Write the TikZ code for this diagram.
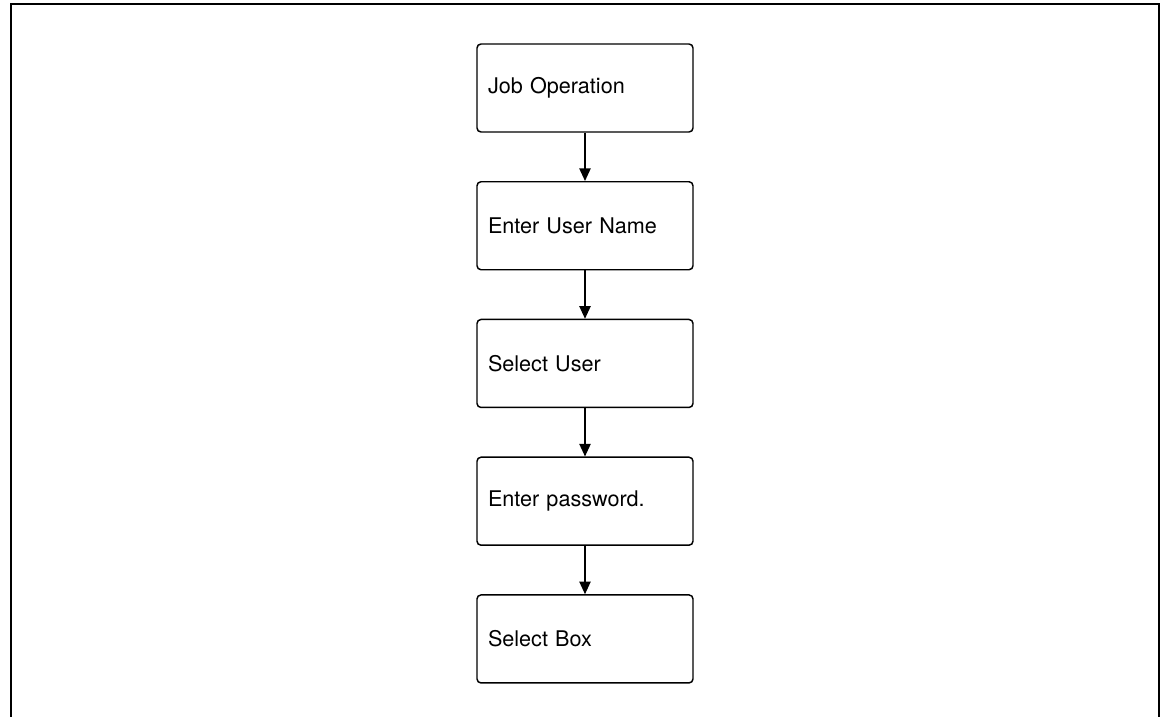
\documentclass[tikz,border=0pt]{standalone}
\usepackage{fontspec}
\setmainfont{TeX Gyre Heros}
\usetikzlibrary{arrows.meta, positioning}

\begin{document}
\begin{tikzpicture}[
  x=0.75pt, y=-0.75pt,
  box/.style={draw, rounded corners=3pt, line width=1.1pt, align=left,
              text width=145.5pt, inner xsep=8.25pt, minimum height=66pt,
              font=\fontsize{16.2}{19}\selectfont},
  arr/.style={-{Triangle[length=9.5pt, width=8.5pt]}, line width=1.1pt},
  node distance=36.2pt
]
\useasboundingbox (0,0) rectangle (1164,717);
% open frame round the page
\draw[line width=1.5pt] (11,717) -- (11,4) -- (1159,4) -- (1159,717);
\node[box] (job) at (585,88) {Job Operation};
\node[box, below=of job] (name) {Enter User Name};
\node[box, below=of name] (user) {Select User};
\node[box, below=of user] (pwd) {Enter password.};
\node[box, below=of pwd] (sbox) {Select Box};
\draw[arr] (job) -- (name);
\draw[arr] (name) -- (user);
\draw[arr] (user) -- (pwd);
\draw[arr] (pwd) -- (sbox);
\end{tikzpicture}
\end{document}
